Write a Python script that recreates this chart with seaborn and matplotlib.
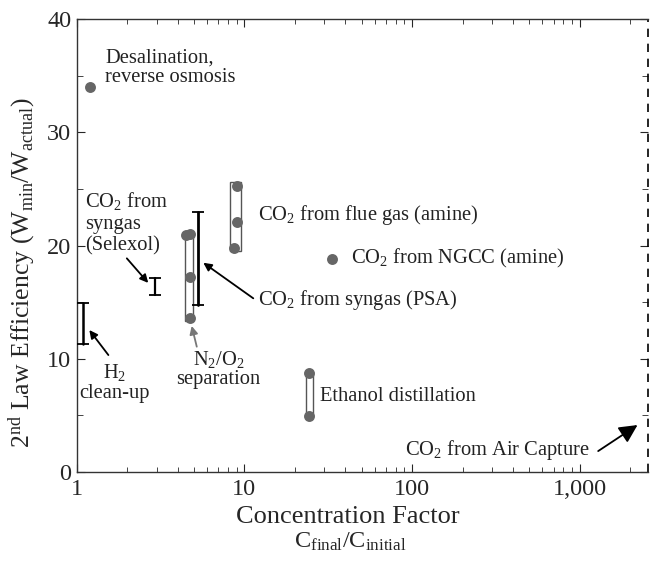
import matplotlib
matplotlib.use('Agg')
import matplotlib.pyplot as plt
import matplotlib.ticker as mticker
from matplotlib.patches import Rectangle
import numpy as np
import pandas as pd
import seaborn as sns

## Datos

# puntos (proceso, factor de concentración, eficiencia)
pt_proc = ['Desalination', 'N2/O2', 'N2/O2', 'N2/O2', 'N2/O2',
           'Flue gas', 'Flue gas', 'Flue gas', 'NGCC', 'Ethanol', 'Ethanol']
pt_x = [1.20, 4.50, 4.74, 4.74, 4.74, 9.08, 9.08, 8.68, 33.2, 24.2, 24.2]
pt_y = [34.0, 20.9, 21.0, 17.2, 13.6, 25.3, 22.05, 19.75, 18.8, 8.77, 4.97]

# cajas de rango (x min, x max, y min, y max)
box_x0 = [4.43, 8.22, 23.3]
box_x1 = [4.96, 9.55, 25.6]
box_y0 = [13.3, 19.5, 4.95]
box_y1 = [21.2, 25.6, 8.8]

# barras de rango (H2, Selexol, PSA)
bar_x = [1.095, 2.93, 5.27]
bar_lo = [11.3, 15.6, 14.75]
bar_hi = [14.9, 17.1, 23.0]
bar_lw = [1.8, 1.6, 2.0]

x_ticks = [1, 10, 100, 1000]
x_ticklabels = ['1', '10', '100', '1,000']
y_ticks = [0, 10, 20, 30, 40]
x_max = 2560

# etiquetas: texto, x, y, alineación, interlineado
labels = [
    ('Desalination,\nreverse osmosis', 1.475, 35.7, 'left', 1.0),
    ('CO$_2$ from\nsyngas\n(Selexol)', 1.12, 22.0, 'left', 1.2),
    ('H$_2$\nclean-up', 1.69, 7.9, 'center', 1.05),
    ('N$_2$/O$_2$\nseparation', 7.0, 9.1, 'center', 1.0),
    ('CO$_2$ from syngas (PSA)', 12.1, 15.2, 'left', 1.0),
    ('CO$_2$ from flue gas (amine)', 12.1, 22.7, 'left', 1.0),
    ('CO$_2$ from NGCC (amine)', 43.1, 18.9, 'left', 1.0),
    ('Ethanol distillation', 28.3, 6.65, 'left', 1.0),
    ('CO$_2$ from Air Capture', 1156, 1.94, 'right', 1.0),
]

# flechas: (cola x, cola y, punta x, punta y, color)
arrows = [
    (1.99, 18.87, 2.67, 16.7, 'black'),
    (1.545, 10.33, 1.189, 12.54, 'black'),
    (5.2, 11.07, 4.85, 12.9, '#777777'),
    (11.3, 15.34, 5.69, 18.48, 'black'),
]
air_arrow = (1289, 1.85, 2213, 4.15)

df = pd.DataFrame({'proc': pt_proc, 'x': pt_x, 'y': pt_y})

sns.set_style('ticks')
plt.rcParams['font.family'] = ['Liberation Serif', 'DejaVu Serif']
plt.rcParams['mathtext.fontset'] = 'custom'
plt.rcParams['mathtext.rm'] = 'Liberation Serif'
plt.rcParams['mathtext.it'] = 'Liberation Serif:italic'

fig = plt.figure(figsize=(6.58, 5.61), dpi=100)
ax = fig.add_axes([0.1166, 0.1586, 0.985 - 0.1166, 0.966 - 0.1586])

gray = '#666666'

# cajas
for x0, x1, y0, y1 in zip(box_x0, box_x1, box_y0, box_y1):
    ax.add_patch(Rectangle((x0, y0), x1 - x0, y1 - y0, fill=False,
                           edgecolor='#555555', lw=1.0, zorder=2))

# barras
for x, lo, hi, lw in zip(bar_x, bar_lo, bar_hi, bar_lw):
    ax.plot([x, x], [lo, hi], color='black', lw=lw, marker='_',
            markersize=8, markeredgewidth=1.3, zorder=3)

sns.scatterplot(data=df, x='x', y='y', color=gray, s=62, edgecolor=gray,
                linewidth=0, legend=False, ax=ax, zorder=4)

for txt, x, y, ha, ls in labels:
    ax.text(x, y, txt, fontsize=14.8, ha=ha, va='center', color='#222222',
            linespacing=ls)

for x0, y0, x1, y1, c in arrows:
    ax.annotate('', xy=(x1, y1), xytext=(x0, y0),
                arrowprops=dict(arrowstyle='-|>', color=c, lw=1.3,
                                mutation_scale=12, shrinkA=0, shrinkB=0))

ax.annotate('', xy=(air_arrow[2], air_arrow[3]), xytext=(air_arrow[0], air_arrow[1]),
            arrowprops=dict(arrowstyle='-|>,head_length=1.1,head_width=0.55',
                            color='black', lw=1.3, shrinkA=0, shrinkB=0))

ax.axvline(x_max, color='black', ls=(0, (5, 4)), lw=1.2, clip_on=False)

ax.set_xscale('log')
ax.set_xlim(1, x_max)
ax.set_ylim(0, 40)
ax.set_xticks(x_ticks)
ax.set_xticklabels(x_ticklabels)
ax.xaxis.set_minor_locator(mticker.LogLocator(base=10, subs=np.arange(2, 10)))
ax.xaxis.set_minor_formatter(mticker.NullFormatter())
ax.set_yticks(y_ticks)
ax.yaxis.set_minor_locator(mticker.MultipleLocator(5))

ax.spines['right'].set_visible(False)
for s in ['left', 'bottom', 'top']:
    ax.spines[s].set_linewidth(1.0)
    ax.spines[s].set_color('#333333')

ax.tick_params(axis='x', which='both', direction='in', top=True, bottom=True,
               labelsize=17.5, pad=5)
ax.tick_params(axis='x', which='major', length=6)
ax.tick_params(axis='x', which='minor', length=3.5)
ax.tick_params(axis='y', which='both', direction='in', left=True, labelsize=17.5,
               pad=4)
ax.tick_params(axis='y', which='major', length=6)
ax.tick_params(axis='y', which='minor', length=4)
ax.tick_params(axis='y', which='both', right=True, labelright=False)

ax.set_xlabel('Concentration Factor', fontsize=19, va='center')
ax.xaxis.set_label_coords(0.475, -0.099, transform=ax.transAxes)
ax.set_ylabel('2$^{\\rm nd}$ Law Efficiency (W$_{\\rm min}$/W$_{\\rm actual}$)',
              fontsize=18.5)
ax.yaxis.set_label_coords(-0.068, 0.44, transform=ax.transAxes)
fig.text(0.532, 0.034, 'C$_{\\rm final}$/C$_{\\rm initial}$', fontsize=17.5,
         ha='center', va='center')

fig.savefig('out.png', dpi=100)
